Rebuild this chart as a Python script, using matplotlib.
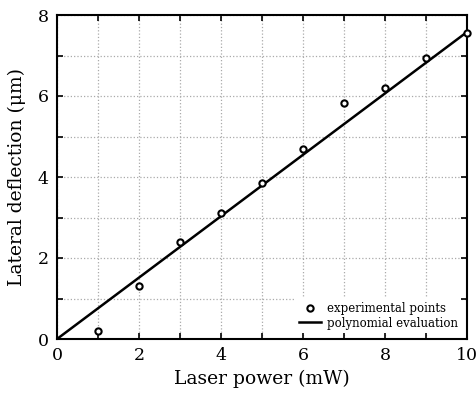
import matplotlib
matplotlib.use("Agg")
import matplotlib.pyplot as plt
from matplotlib.ticker import MultipleLocator, FuncFormatter

# laser power (mW) vs lateral deflection (um)
power = [1, 2, 3, 4, 5, 6, 7, 8, 9, 10]
deflection = [0.20, 1.30, 2.40, 3.10, 3.85, 4.69, 5.83, 6.20, 6.94, 7.56]

fit_x = [0, 10]
fit_y = [0, 7.58]

plt.rcParams['font.family'] = ['DejaVu Serif']
plt.rcParams['mathtext.fontset'] = 'dejavuserif'

fig = plt.figure(figsize=(4.77, 3.96), dpi=100)
ax = fig.add_axes([57 / 477, 1 - 339 / 396, 410 / 477, 324 / 396])

ax.plot(fit_x, fit_y, color="black", linewidth=1.8, label="polynomial evaluation", zorder=3)
ax.plot(power, deflection, linestyle="none", marker="o", markersize=4.5,
        markerfacecolor="white", markeredgecolor="black", markeredgewidth=1.5,
        label="experimental points", zorder=4, clip_on=False)

ax.set_xlim(0, 10)
ax.set_ylim(0, 8)
ax.xaxis.set_major_locator(MultipleLocator(1))
ax.yaxis.set_major_locator(MultipleLocator(1))
even = FuncFormatter(lambda v, p: "%d" % v if int(round(v)) % 2 == 0 else "")
ax.xaxis.set_major_formatter(even)
ax.yaxis.set_major_formatter(even)
ax.tick_params(direction="in", top=True, right=True, length=4, width=1.2,
               labelsize=12.5, pad=6)

ax.grid(True, linestyle=":", color="#aaaaaa", linewidth=0.9)
for s in ax.spines.values():
    s.set_linewidth(1.5)

ax.set_xlabel("Laser power (mW)", fontsize=13.5, labelpad=4)
ax.set_ylabel("Lateral deflection (μm)", fontsize=13.5, labelpad=8)

h, l = ax.get_legend_handles_labels()
leg = ax.legend(h[::-1], l[::-1], loc="lower right", fontsize=8.5, frameon=True,
                handlelength=1.8, handletextpad=0.5, labelspacing=0.15,
                borderaxespad=0.5, borderpad=0.3, fancybox=False)
leg.get_frame().set_edgecolor("none")
leg.get_frame().set_facecolor("white")
leg.get_frame().set_alpha(1)

fig.savefig("out.png", dpi=100)
plt.close(fig)
